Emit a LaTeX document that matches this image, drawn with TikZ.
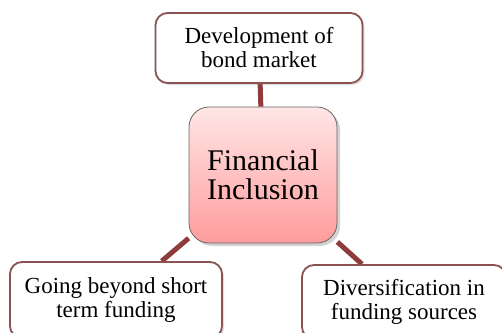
\documentclass[tikz,border=0pt]{standalone}
\usepackage{fontspec}
\setmainfont{Liberation Serif}
\usetikzlibrary{shadows,backgrounds}
\definecolor{boxline}{HTML}{8A5252}
\definecolor{conn}{HTML}{8E3B3B}
\definecolor{pinktop}{HTML}{FFE6E6}
\definecolor{pinkbot}{HTML}{FF9C9C}
\tikzset{
  leaf/.style={draw=boxline, line width=1.8pt, fill=white, rounded corners=12pt,
    align=center, font=\fontsize{23}{24}\selectfont, inner sep=0pt,
    drop shadow={opacity=0.25, shadow xshift=2pt, shadow yshift=-2pt}},
  hub/.style={draw=black!60, line width=0.8pt, rounded corners=20pt,
    top color=pinktop, bottom color=pinkbot, align=center, inner sep=0pt,
    font=\fontsize{30}{29}\selectfont,
    drop shadow={opacity=0.35, shadow xshift=3pt, shadow yshift=-3pt}},
  link/.style={draw=conn, line width=5pt}
}
\begin{document}
\begin{tikzpicture}[x=1pt,y=-1pt]
\useasboundingbox (0,0) rectangle (502,332);
\clip (0,0) rectangle (502,332);
\node[hub, minimum width=148pt, minimum height=136pt] (hub) at (263,175) {Financial\\Inclusion};
\node[leaf, minimum width=207pt, minimum height=70pt] (top) at (259,48) {Development of\\bond market};
\node[leaf, minimum width=212pt, minimum height=76pt] (left) at (116,300) {Going beyond short\\term funding};
\node[leaf, minimum width=204pt, minimum height=74pt] (right) at (404,302) {Diversification in\\funding sources};
\begin{scope}[on background layer]
\draw[link] (hub) -- (top);
\draw[link] (hub) -- (left);
\draw[link] (hub) -- (right);
\end{scope}
\end{tikzpicture}
\end{document}
